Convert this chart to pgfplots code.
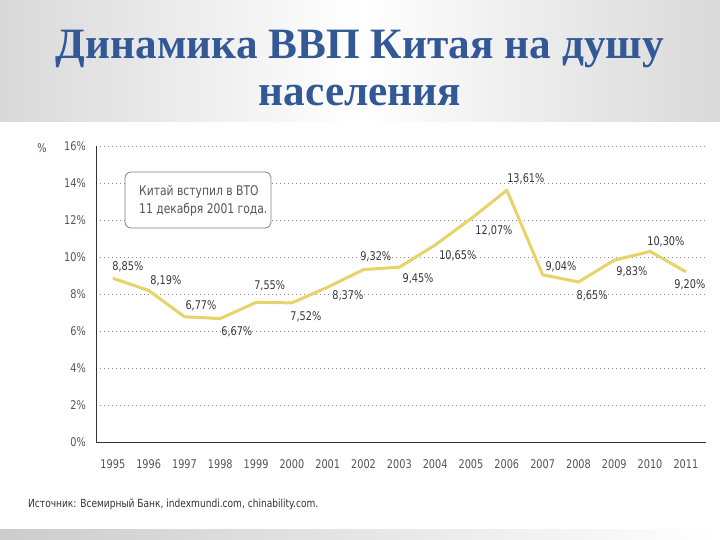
\documentclass[border=0pt]{standalone}
\usepackage{pgfplots}
\pgfplotsset{compat=1.18}
\usepackage{fontspec}
\setmainfont{DejaVu Sans Condensed}
\newfontfamily\titlefont{Liberation Serif}
\newfontfamily\condfont[FakeStretch=0.9]{DejaVu Sans Condensed}
\definecolor{titleblue}{RGB}{50,88,150}
\definecolor{linegold}{RGB}{230,211,105}
\definecolor{txtgray}{RGB}{85,85,85}
\definecolor{lbl}{RGB}{55,55,55}
\begin{document}
\begin{tikzpicture}
\useasboundingbox (0pt,0pt) rectangle (720pt,540pt);
\fill[white] (0pt,0pt) rectangle (720pt,540pt);
\shade[left color=black!15, right color=black!15, middle color=white] (0pt,418pt) rectangle (720pt,540pt);
\shade[left color=black!20, right color=white] (0pt,0pt) rectangle (720pt,10pt);
\node[text=titleblue, font=\titlefont\bfseries\fontsize{43.3}{48}\selectfont] at (360pt,491pt) {Динамика ВВП Китая на душу};
\node[text=titleblue, font=\titlefont\bfseries\fontsize{43.3}{48}\selectfont] at (360pt,444pt) {населения};
\begin{axis}[
  at={(96pt,98pt)}, anchor=south west,
  scale only axis, width=610pt, height=296pt,
  xmin=1994.53, xmax=2011.56, ymin=0, ymax=16,
  axis x line*=bottom, axis y line*=left,
  axis line style={draw=black!80, line width=0.9pt, -},
  xtick={1995,...,2011},
  xticklabels={1995,1996,1997,1998,1999,2000,2001,2002,2003,2004,2005,2006,2007,2008,2009,2010,2011},
  ytick={0,2,...,16},
  yticklabels={0\%,2\%,4\%,6\%,8\%,10\%,12\%,14\%,16\%},
  major tick length=0pt,
  ymajorgrids,
  grid style={dash pattern=on 1pt off 3pt, black!45, line width=0.9pt},
  tick label style={font=\condfont\fontsize{12}{14}\selectfont, text=txtgray},
  y tick label style={anchor=east, inner sep=0pt, xshift=-10pt},
  x tick label style={anchor=center, inner sep=0pt, yshift=-22pt},
  clip=false,
]
\addplot[color=linegold, line width=3pt, line join=round] coordinates {
(1995,8.85) (1996,8.19) (1997,6.77) (1998,6.67) (1999,7.55) (2000,7.52)
(2001,8.37) (2002,9.32) (2003,9.45) (2004,10.65) (2005,12.07) (2006,13.61)
(2007,9.04) (2008,8.65) (2009,9.83) (2010,10.30) (2011,9.20)};
\begin{scope}[every node/.style={font=\condfont\fontsize{12}{14}\selectfont, text=lbl, inner sep=0pt}]
\node at (axis cs:1995.42,9.46) {8,85\%};
\node at (axis cs:1996.48,8.70) {8,19\%};
\node at (axis cs:1997.46,7.35) {6,77\%};
\node at (axis cs:1998.46,5.95) {6,67\%};
\node at (axis cs:1999.38,8.43) {7,55\%};
\node at (axis cs:2000.39,6.76) {7,52\%};
\node at (axis cs:2001.56,7.89) {8,37\%};
\node at (axis cs:2002.34,10.00) {9,32\%};
\node at (axis cs:2003.52,8.81) {9,45\%};
\node at (axis cs:2004.63,10.05) {10,65\%};
\node at (axis cs:2005.64,11.41) {12,07\%};
\node at (axis cs:2006.53,14.22) {13,61\%};
\node at (axis cs:2007.51,9.46) {9,04\%};
\node at (axis cs:2008.38,7.89) {8,65\%};
\node at (axis cs:2009.49,9.19) {9,83\%};
\node at (axis cs:2010.44,10.81) {10,30\%};
\node at (axis cs:2011.11,8.49) {9,20\%};
\end{scope}
\end{axis}
\node[font=\condfont\fontsize{12}{14}\selectfont, text=txtgray] at (42pt,392pt) {\%};
\draw[black!50, line width=0.8pt, rounded corners=6pt, fill=white] (125pt,312pt) rectangle (271pt,368pt);
\node[anchor=west, font=\condfont\fontsize{13.3}{16}\selectfont, text=txtgray, inner sep=0pt] at (139pt,348pt) {Китай вступил в ВТО};
\node[anchor=west, font=\condfont\fontsize{13.3}{16}\selectfont, text=txtgray, inner sep=0pt] at (139pt,330pt) {11 декабря 2001 года.};
\node[anchor=west, font=\condfont\fontsize{11.2}{13}\selectfont, text=black!80, inner sep=0pt] at (28pt,36pt) {Источник: Всемирный Банк, indexmundi.com, chinability.com.};
\end{tikzpicture}
\end{document}
